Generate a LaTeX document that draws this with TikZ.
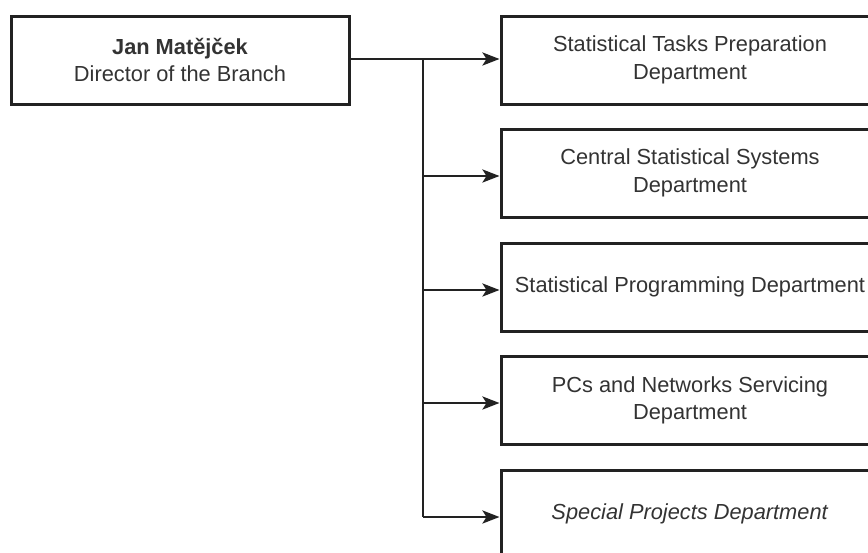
\documentclass[tikz,border=0pt]{standalone}
\usepackage{fontspec}
\setmainfont{Liberation Sans}
\usetikzlibrary{arrows.meta}
\definecolor{ink}{HTML}{222222}
\definecolor{txt}{HTML}{333333}
\begin{document}
\begin{tikzpicture}[x=1pt,y=-1pt,
  box/.style={draw=ink,line width=3pt,fill=white,inner sep=0pt,
    minimum height=88pt,align=center,text=txt,
    font=\fontsize{21.8}{27.6}\selectfont},
  dept/.style={box,minimum width=378pt},
  link/.style={draw=ink,line width=2.8pt},
  arr/.style={link,-{Stealth[length=17pt,width=13pt,inset=4pt]}}]
\useasboundingbox (0,0) rectangle (868,552);
\node[box,minimum width=338pt] (dir) at (180,60) {\textbf{Jan Matějček}\\Director of the Branch};
\node[dept] (d1) at (690,60) {Statistical Tasks Preparation\\Department};
\node[dept] (d2) at (690,173) {Central Statistical Systems\\Department};
\node[dept] (d3) at (690,287) {Statistical Programming Department};
\node[dept] (d4) at (690,400.5) {PCs and Networks Servicing\\Department};
\node[dept] (d5) at (690,514) {\textit{Special Projects Department}};
\coordinate (j1) at (423,59);
\coordinate (j2) at (423,176);
\coordinate (j3) at (423,290);
\coordinate (j4) at (423,403);
\coordinate (j5) at (423,517);
\draw[link] (dir.east |- j1) -- (j1);
\draw[link] (j1) -- (j5);
\draw[arr] (j1) -- (d1.west |- j1);
\draw[arr] (j2) -- (d2.west |- j2);
\draw[arr] (j3) -- (d3.west |- j3);
\draw[arr] (j4) -- (d4.west |- j4);
\draw[arr] (j5) -- (d5.west |- j5);
\end{tikzpicture}
\end{document}
